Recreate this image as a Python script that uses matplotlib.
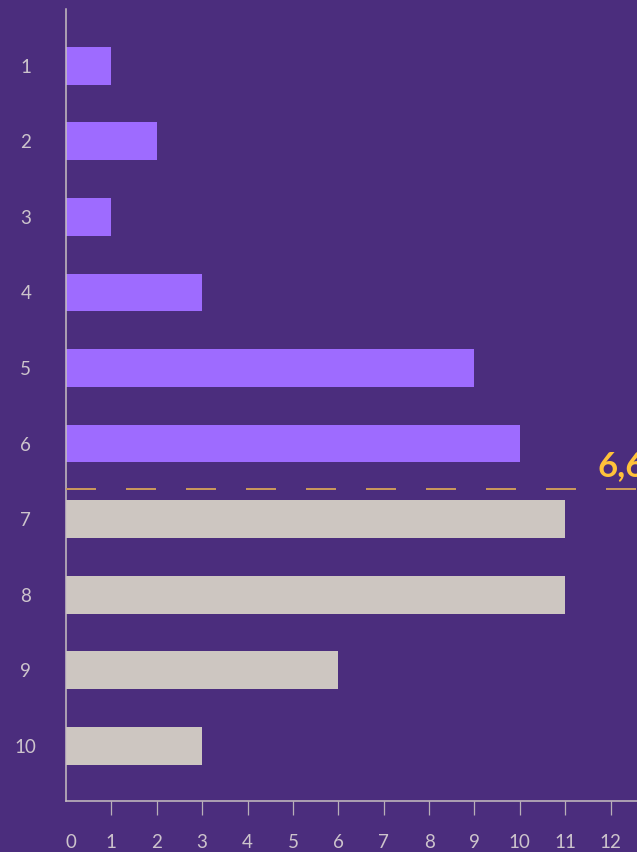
import matplotlib.pyplot as plt
from matplotlib.transforms import ScaledTranslation

# Answer counts per score (1 = top row)
scores = [1, 2, 3, 4, 5, 6, 7, 8, 9, 10]
counts = [1, 2, 1, 3, 9, 10, 11, 11, 6, 3]
colors = ['#9e6bff'] * 6 + ['#cdc6c1'] * 4

# weighted mean of the scores, rounded to one decimal
mean_score = round(sum(s * c for s, c in zip(scores, counts)) / sum(counts), 1)
mean_label = f"{mean_score:.1f}".replace('.', ',')

bg = '#4b2d7d'
fg = '#cdc4cc'
fonts = ['Lato', 'DejaVu Sans']

fig = plt.figure(figsize=(6.37, 8.52), dpi=100, facecolor=bg)
ax = fig.add_axes([66 / 637, 51 / 852, 590 / 637, 792 / 852])
ax.set_facecolor(bg)

ax.barh(scores, counts, height=0.5, color=colors, zorder=2)
ax.axhline(mean_score, color='#c9975c', lw=1.44, linestyle=(0, (15, 15)), zorder=3)
ax.text(11.72, mean_score - 0.17, mean_label, color='#ffc23a', fontsize=25,
        fontweight='bold', family=fonts, va='baseline', ha='left',
        clip_on=False, zorder=4)

ax.set_xlim(0, 13)
ax.set_ylim(10.73, 0.25)

ax.set_xticks(range(0, 13))
ax.set_yticks(scores)
ax.tick_params(axis='x', length=10, width=0.9, color='#b9b0b8', pad=13.5,
               labelsize=13.5, labelcolor=fg)
ax.tick_params(axis='y', length=0, pad=29, labelsize=13.5, labelcolor=fg)
for lbl in ax.get_yticklabels():
    lbl.set_horizontalalignment('center')
for lbl in ax.get_xticklabels() + ax.get_yticklabels():
    lbl.set_family(fonts)
# hide the tick at 0, the spine corner sits there, and nudge its label right
ax.xaxis.get_major_ticks()[0].tick1line.set_visible(False)
zero_lbl = ax.xaxis.get_major_ticks()[0].label1
zero_lbl.set_transform(zero_lbl.get_transform() + ScaledTranslation(5 / 100, 0, fig.dpi_scale_trans))

for side in ['top', 'right']:
    ax.spines[side].set_visible(False)
for side in ['left', 'bottom']:
    ax.spines[side].set_color('#c8c0c2')
    ax.spines[side].set_linewidth(1.1)
    ax.spines[side].set_zorder(2.5)

fig.savefig('out.png', dpi=100, facecolor=bg)
